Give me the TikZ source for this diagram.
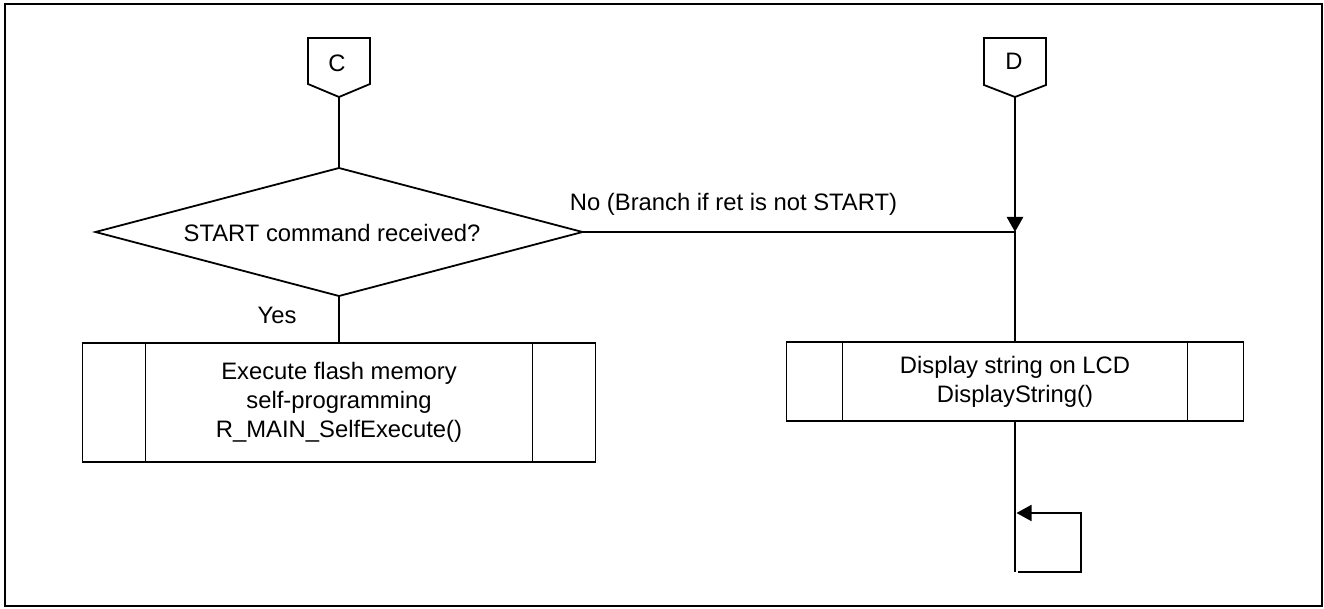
\documentclass[tikz,border=0pt]{standalone}
\usepackage{fontspec}
\setmainfont{Liberation Sans}
\usetikzlibrary{shapes.geometric,arrows.meta}
\begin{document}
\begin{tikzpicture}[x=1pt,y=-1pt,
  ln/.style={line width=1.8pt},
  txt/.style={inner sep=0pt, align=center, font=\fontsize{23.8}{29}\selectfont},
  subbox/.style={draw, line width=1.8pt, inner sep=0pt, outer sep=0pt, align=center, font=\fontsize{23.8}{29}\selectfont},
  tipA/.style={-{Triangle[length=15pt 0 0,width=16pt 0]}}]
\useasboundingbox (0,0) rectangle (1324,609);
\draw[line width=2.4pt] (4.7,4) rectangle (1321.7,606);

% connector C
\coordinate (Cpt) at (339,97);
\draw[ln] (308,38) -- (370,38) -- (370,84) -- (Cpt) -- (308,84) -- cycle;
\node[txt] (Clbl) at (337,63) {C};

% connector D
\coordinate (Dpt) at (1015,97);
\draw[ln] (984,38) -- (1046,38) -- (1046,85) -- (Dpt) -- (984,85) -- cycle;
\node[txt] (Dlbl) at (1014,61) {D};

% decision
\node[draw, ln, diamond, aspect=3.8, minimum width=487pt, minimum height=128pt, inner sep=0pt, outer sep=0pt] (dia) at (339,232) {};
\node[txt] (qtxt) at (332,233) {START command received?};

% subroutine boxes
\node[subbox, minimum width=513pt, minimum height=119pt] (exe) at (339,402.5)
  {Execute flash memory\\self-programming\\R\_MAIN\_SelfExecute()};
\draw[ln] ([xshift=63pt]exe.north west) -- ([xshift=63pt]exe.south west);
\draw[ln] ([xshift=-63pt]exe.north east) -- ([xshift=-63pt]exe.south east);

\node[subbox, minimum width=457pt, minimum height=79pt] (disp) at (1015,381.5)
  {Display string on LCD\\DisplayString()};
\draw[ln] ([xshift=56pt]disp.north west) -- ([xshift=56pt]disp.south west);
\draw[ln] ([xshift=-56pt]disp.north east) -- ([xshift=-56pt]disp.south east);

% connectors
\coordinate (j) at (1015,232);
\draw[ln] (Cpt) -- (dia.north);
\draw[ln] (dia.south) -- (exe.north);
\draw[ln] (dia.east) -- (j) -- (disp.north);
\draw[line width=2.6pt, tipA] (Dpt) -- (j);

% endless loop
\coordinate (bot) at (1015,572);
\coordinate (lpa) at (1018,572);
\coordinate (lpb) at (1081,572);
\coordinate (lpc) at (1081,513);
\coordinate (lpt) at (1016.5,513);
\draw[ln] (disp.south) -- (bot);
\draw[ln, tipA] (lpa) -- (lpb) -- (lpc) -- (lpt);

% labels
\node[txt, anchor=base] (nolbl) at (733.5,211) {No (Branch if ret is not START)};
\node[txt] (yeslbl) at (277,315.5) {Yes};
\end{tikzpicture}
\end{document}
